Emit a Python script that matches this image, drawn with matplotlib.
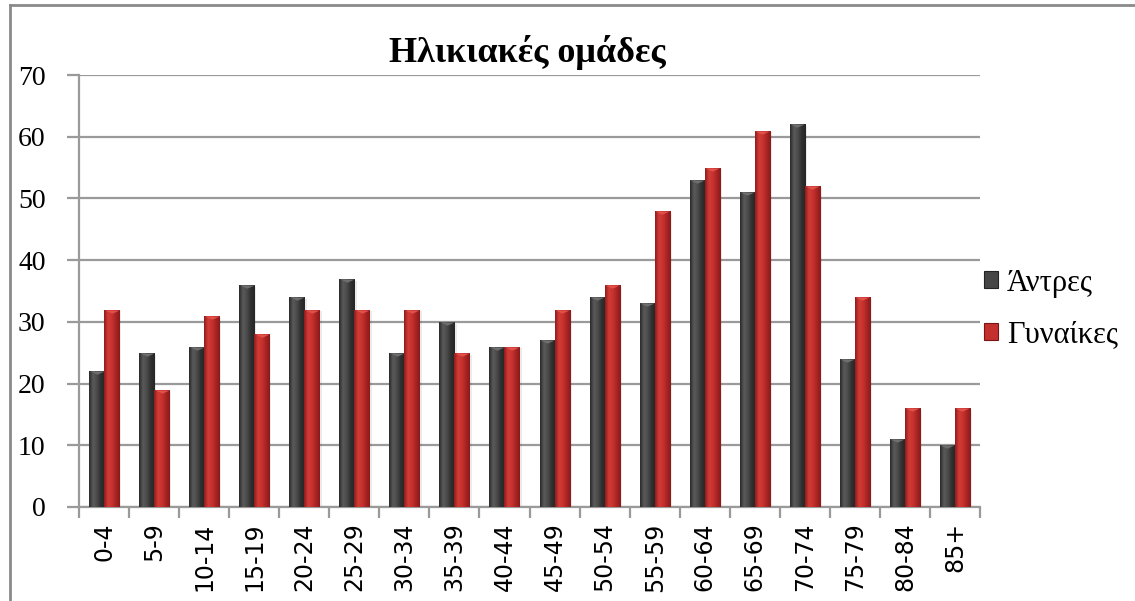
import numpy as np
import matplotlib
matplotlib.use("Agg")
import matplotlib.pyplot as plt
from matplotlib import font_manager
from matplotlib.lines import Line2D
from matplotlib.colors import LinearSegmentedColormap
from matplotlib.patches import Rectangle
from matplotlib.path import Path

categories = ["0-4", "5-9", "10-14", "15-19", "20-24", "25-29", "30-34", "35-39",
              "40-44", "45-49", "50-54", "55-59", "60-64", "65-69", "70-74",
              "75-79", "80-84", "85+"]
men = [22, 25, 26, 36, 34, 37, 25, 30, 26, 27, 34, 33, 53, 51, 62, 24, 11, 10]
women = [32, 19, 31, 28, 32, 32, 32, 25, 26, 32, 36, 48, 55, 61, 52, 34, 16, 16]
series_names = ["Άντρες", "Γυναίκες"]
title = "Ηλικιακές ομάδες"
yticks = [0, 10, 20, 30, 40, 50, 60, 70]

serif = ["Liberation Serif", "DejaVu Serif"]
sans = "DejaVu Sans"
for cand in ["DejaVu Sans Condensed", "Liberation Sans Narrow"]:
    try:
        p = font_manager.findfont(font_manager.FontProperties(family=cand), fallback_to_default=False)
        if p:
            sans = cand
            break
    except Exception:
        pass

fig = plt.figure(figsize=(11.35, 6.01), dpi=100)
ax = fig.add_axes([79/1135, 1-507/601, (980-79)/1135, (507-75)/601])

x = np.arange(len(categories))
w = 0.3
men_c = "#454545"
wom_c = "#c3302d"

grid_c = "#9a9a9a"
ax.set_yticks(yticks)
ax.yaxis.grid(True, color=grid_c, linewidth=1.6)
ax.set_axisbelow(True)

cm_men = LinearSegmentedColormap.from_list("m", ["#2a2a2a", "#5a5a5a", "#4a4a4a", "#303030", "#262626"])
cm_wom = LinearSegmentedColormap.from_list("w", ["#8e1c1c", "#d23c37", "#c8322e", "#a82424", "#8a1a1a"])
bevel = Path([(-1, 0), (1, 0), (0, -0.45), (-1, 0)],
             [Path.MOVETO, Path.LINETO, Path.LINETO, Path.CLOSEPOLY])

def draw(vals, off, color, cmap, top_c):
    bars = ax.bar(x + off, vals, width=w, color=color, edgecolor="none", zorder=3)
    grad = np.linspace(0, 1, 64).reshape(1, -1)
    for b in bars:
        im = ax.imshow(grad, cmap=cmap, aspect="auto", zorder=4,
                       extent=(b.get_x(), b.get_x() + b.get_width(), 0, b.get_height()))
        im.set_clip_path(b)
        ax.bar(b.get_x() + b.get_width() + 0.015, b.get_height() - 0.3, width=0.03,
               align="edge", color="#000000", alpha=0.08, zorder=2, edgecolor="none")
    ax.scatter(x + off, vals, marker=bevel, s=105, color=top_c, linewidths=0, zorder=5)
    return bars

draw(men, -w/2, men_c, cm_men, "#6e6e6e")
draw(women, w/2, wom_c, cm_wom, "#e2504a")
ax.set_xlim(-0.5, len(categories) - 0.5)
ax.set_ylim(0, 70)

ax.set_xticks(np.arange(len(categories) + 1) - 0.5, minor=False)
ax.set_xticklabels([])
ax.set_xticks(x, minor=True)
ax.set_xticklabels(categories, minor=True, rotation=90, fontsize=17, family=sans)
ax.tick_params(axis="x", which="major", length=8, width=1.6, color=grid_c, direction="out")
ax.tick_params(axis="x", which="minor", length=0, pad=11)
ax.tick_params(axis="y", length=9, width=1.6, color=grid_c, pad=15)
for lab in ax.get_yticklabels():
    lab.set_fontfamily(serif)
    lab.set_fontsize(20)

for s in ["top", "right"]:
    ax.spines[s].set_visible(False)
for s in ["left", "bottom"]:
    ax.spines[s].set_color(grid_c)
    ax.spines[s].set_linewidth(1.6)

fig.text(527/1135, 1-53/601, title, ha="center", va="center", fontsize=26,
         fontweight="bold", family=serif)

handles = [Rectangle((0, 0), 1, 1, facecolor=men_c, edgecolor="#222222", linewidth=0.8),
           Rectangle((0, 0), 1, 1, facecolor=wom_c, edgecolor="#7a1515", linewidth=0.8)]
fig.legend(handles, series_names, loc="center left",
           bbox_to_anchor=(984/1135, 1-309/601), frameon=False,
           prop={"family": serif, "size": 22}, handlelength=0.45, handleheight=0.45,
           handletextpad=0.3, labelspacing=0.75, borderaxespad=0, borderpad=0)

fig.add_artist(Line2D([10/1135, 10/1135], [0, 1-5/601], transform=fig.transFigure,
                      color="#8a8a8a", linewidth=2))
fig.add_artist(Line2D([10/1135, 1], [1-5/601, 1-5/601], transform=fig.transFigure,
                      color="#8a8a8a", linewidth=2))

fig.savefig("out.png", dpi=100)
